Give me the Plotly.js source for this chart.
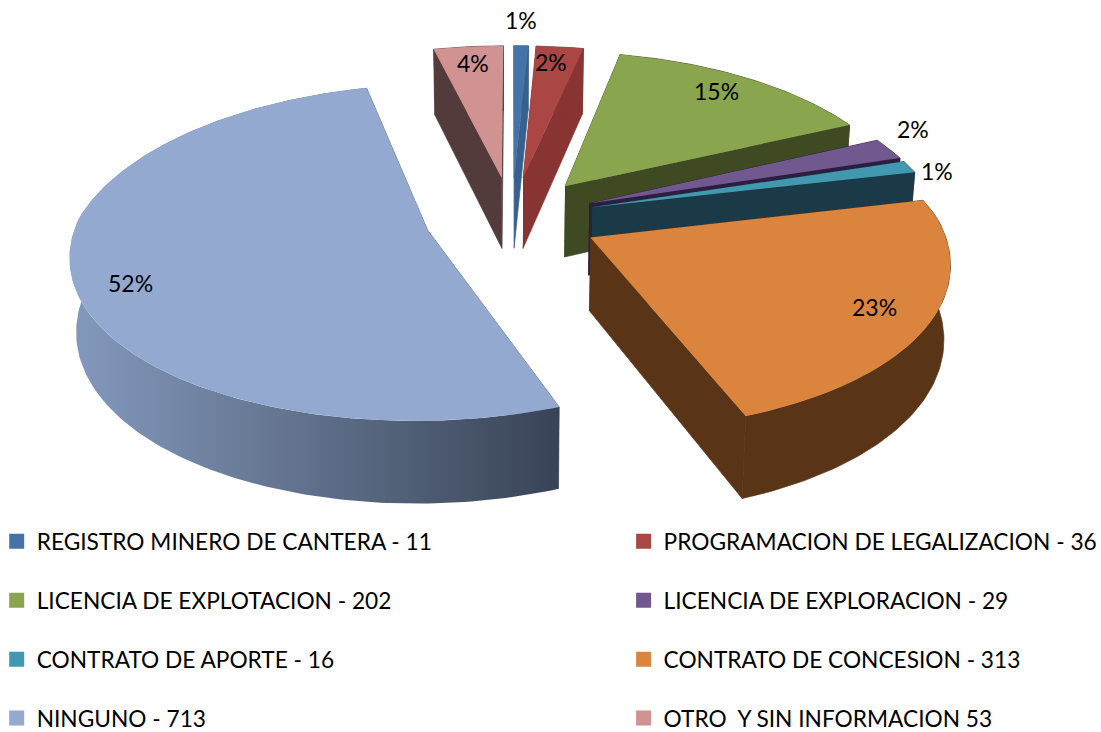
<!DOCTYPE html>
<html>
<head>
<meta charset="utf-8">
<script src="https://cdn.plot.ly/plotly-3.0.1.min.js"></script>
<style>html,body{margin:0;padding:0;background:#fff}#c{width:1101px;height:732px}</style>
</head>
<body>
<div id="c"></div>
<script>
const categories = ["REGISTRO MINERO DE CANTERA - 11","PROGRAMACION DE LEGALIZACION - 36","LICENCIA DE EXPLOTACION - 202","LICENCIA DE EXPLORACION - 29","CONTRATO DE APORTE - 16","CONTRATO DE CONCESION - 313","NINGUNO - 713","OTRO  Y SIN INFORMACION 53"];
const values = [11,36,202,29,16,313,713,53];
const percentLabels = ["1%","2%","15%","2%","1%","23%","52%","4%"];
const topColors = ["#4573a7","#aa4644","#89a54e","#71588f","#4298af","#db843d","#93a9cf","#d19392"];
const wallColors = ["#37608f","#873432","#3f4a22","#2c1e40","#1b3a47","#5a3417","#5d6c88","#533a3b"];
const pulls = [0.25,0.25,0.25,0.24,0.24,0.25,0.25,0.25];
const labelX = [521,551,716,913,937,874,130,473];
const labelY = [20,62,91,129,171,307,283,63];
const paintOrder = [7,1,0,2,3,4,6,5];
const legendLeft = [0,2,4,6];
const legendRight = [1,3,5,7];

const FONT = "Lato, 'Open Sans', sans-serif";
const x0 = 512, y0 = 217.6, R = 350, Q = 166.8, H = 72, SHRINK = 0.015;
function project(u, v, z) {
  const wx = 1 + (v > 0 ? 0.17 : 0.13) * v;
  const wy = 1 + (v > 0 ? 0.17 : 0.11) * v;
  const dw = 1 + (v > 0 ? 0.08 : 0.12) * v;
  return [x0 + (R * u / wx) * (1 - SHRINK * z), y0 - Q * v / wy + H * z / dw];
}
const total = values.reduce((a, b) => a + b, 0);
let cum = 0;
const slices = values.map((val, i) => {
  const a0 = cum / total * 2 * Math.PI; cum += val;
  const a1 = cum / total * 2 * Math.PI;
  const mid = (a0 + a1) / 2;
  const ax = pulls[i] * Math.sin(mid), ay = pulls[i] * Math.cos(mid);
  const n = Math.max(2, Math.ceil((a1 - a0) * 180 / Math.PI));
  const arc = [];
  for (let k = 0; k <= n; k++) {
    const t = a0 + (a1 - a0) * k / n;
    arc.push([ax + Math.sin(t), ay + Math.cos(t)]);
  }
  return {i, ax, ay, arc};
});
function poly(pts, color, extra, lineW) {
  return Object.assign({
    type: "scatter", mode: "lines", x: pts.map(q => q[0]), y: pts.map(q => q[1]),
    fill: "toself", fillcolor: color, line: {width: lineW || 0, color: color},
    hoverinfo: "skip", showlegend: false
  }, extra || {});
}
const traces = [];
paintOrder.forEach(idx => {
  const s = slices[idx];
  const first = s.arc[0], last = s.arc[s.arc.length - 1];
  const wall = wallColors[idx];
  traces.push(poly([project(s.ax, s.ay, 0), project(first[0], first[1], 0), project(first[0], first[1], 1), project(s.ax, s.ay, 1)], wall, null, 0.7));
  traces.push(poly([project(s.ax, s.ay, 0), project(last[0], last[1], 0), project(last[0], last[1], 1), project(s.ax, s.ay, 1)], wall, null, 0.7));
  const outer = s.arc.map(q => project(q[0], q[1], 0)).concat(s.arc.slice().reverse().map(q => project(q[0], q[1], 1)));
  const extra = idx === 6 ? {fillgradient: {type: "horizontal", colorscale: [[0, "#8399bd"], [0.45, "#64748f"], [1, "#384357"]]}} : {};
  traces.push(poly(outer, wall, extra, idx === 6 ? 0 : 0.7));
  traces.push(poly([project(s.ax, s.ay, 0)].concat(s.arc.map(q => project(q[0], q[1], 0))), topColors[idx]));
});
function legendTrace(idx, legendId) {
  return {
    type: "scatter", mode: "markers", x: [null], y: [null], name: categories[idx],
    legend: legendId, legendgroup: "g" + idx, showlegend: true,
    marker: {symbol: "square", size: 15, color: topColors[idx]}, hoverinfo: "skip"
  };
}
legendLeft.forEach(i => traces.push(legendTrace(i, "legend")));
legendRight.forEach(i => traces.push(legendTrace(i, "legend2")));

const legendBase = {
  orientation: "v", bgcolor: "rgba(0,0,0,0)", borderwidth: 0, traceorder: "grouped",
  tracegroupgap: 26.4, xanchor: "left", yanchor: "top", itemclick: false, itemdoubleclick: false,
  font: {family: FONT, size: 22.7, color: "#000"}
};
const layout = {
  width: 1101, height: 732, margin: {l: 0, r: 0, t: 0, b: 0, autoexpand: false},
  paper_bgcolor: "#fff", plot_bgcolor: "#fff",
  xaxis: {range: [0, 1101], visible: false, fixedrange: true},
  yaxis: {range: [732, 0], visible: false, fixedrange: true},
  legend: Object.assign({}, legendBase, {x: -0.003, y: 0.2895}),
  legend2: Object.assign({}, legendBase, {x: 0.5664, y: 0.2895}),
  annotations: percentLabels.map((t, i) => ({
    x: labelX[i], y: labelY[i], xref: "x", yref: "y", text: t, showarrow: false,
    font: {family: FONT, size: 23, color: "#000"}
  }))
};
Plotly.newPlot("c", traces, layout, {displayModeBar: false, staticPlot: false});
</script>
</body>
</html>
